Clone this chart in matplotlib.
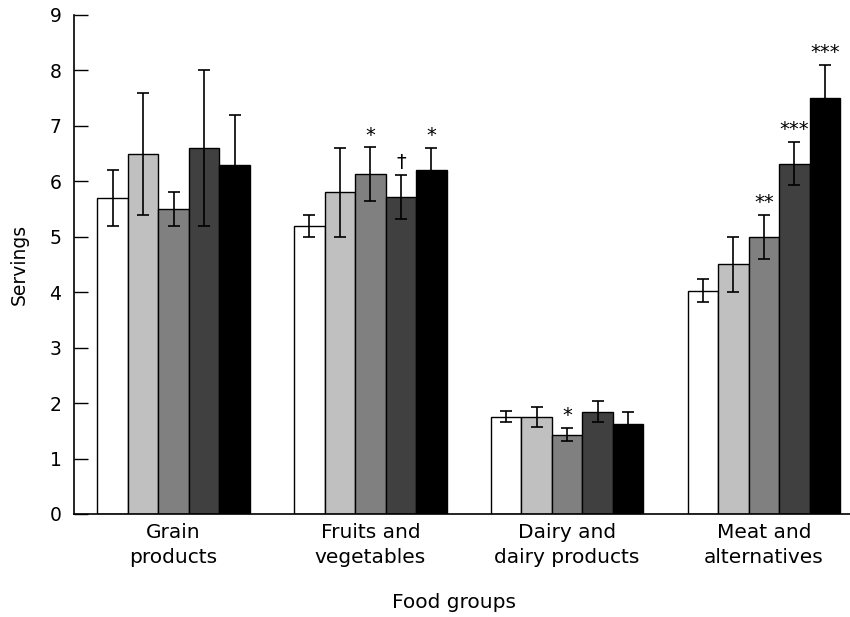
import numpy as np
import matplotlib
matplotlib.use("Agg")
import matplotlib.pyplot as plt

plt.rcParams['font.family'] = ['DejaVu Sans']

# Food groups and the five intake groups (means and SE, servings)
groups = ['Grain\nproducts', 'Fruits and\nvegetables', 'Dairy and\ndairy products', 'Meat and\nalternatives']
means = [
    [5.7, 5.2, 1.75, 4.03],   # group 1 (white)
    [6.5, 5.8, 1.75, 4.5],    # group 2
    [5.5, 6.13, 1.43, 5.0],   # group 3
    [6.6, 5.72, 1.84, 6.32],  # group 4
    [6.3, 6.2, 1.63, 7.5],    # group 5 (black)
]
errors = [
    [0.5, 0.2, 0.1, 0.2],
    [1.1, 0.8, 0.18, 0.5],
    [0.3, 0.48, 0.12, 0.4],
    [1.4, 0.4, 0.19, 0.39],
    [0.9, 0.4, 0.2, 0.6],
]
# significance marks: (series index, group index, text)
marks = [(2, 1, '*'), (3, 1, '\u2020'), (4, 1, '*'), (2, 2, '*'),
         (2, 3, '**'), (3, 3, '***'), (4, 3, '***')]

colors = ['white', '#c0c0c0', '#808080', '#404040', 'black']

fig = plt.figure(figsize=(8.5, 6.17), dpi=100)
ax = fig.add_axes([0.087, 0.167, 0.913, 0.8088])

x = np.arange(len(groups))
width = 0.155
for i in range(5):
    pos = x + (i - 2) * width
    ax.bar(pos, means[i], width, color=colors[i], edgecolor='black', linewidth=1.0, zorder=2)
    ax.errorbar(pos, means[i], yerr=errors[i], fmt='none', ecolor='black',
                elinewidth=1.2, capsize=4, capthick=1.2, zorder=3)

for s, g, txt in marks:
    px = x[g] + (s - 2) * width
    top = means[s][g] + errors[s][g]
    ax.text(px, top + 0.22, txt, ha='center', va='center', fontsize=14)

ax.set_xlim(-0.506, 3.437)
ax.set_ylim(0, 9)
ax.set_yticks(range(0, 10))
ax.set_xticks(x)
ax.set_xticklabels(groups, fontsize=14.5, linespacing=1.4)
ax.tick_params(axis='x', length=0, pad=6.5)
ax.tick_params(axis='y', direction='in', length=10, width=1, labelsize=13.5, pad=9)

ax.spines['top'].set_visible(False)
ax.spines['right'].set_visible(False)
ax.spines['left'].set_linewidth(1.2)
ax.spines['bottom'].set_linewidth(1.2)

ax.set_ylabel('Servings', fontsize=13.5)
ax.yaxis.set_label_coords(-0.058, 0.5)
ax.set_xlabel('Food groups', fontsize=14.5)
ax.xaxis.set_label_coords(0.49, -0.158)

fig.savefig('out.png', dpi=100)
